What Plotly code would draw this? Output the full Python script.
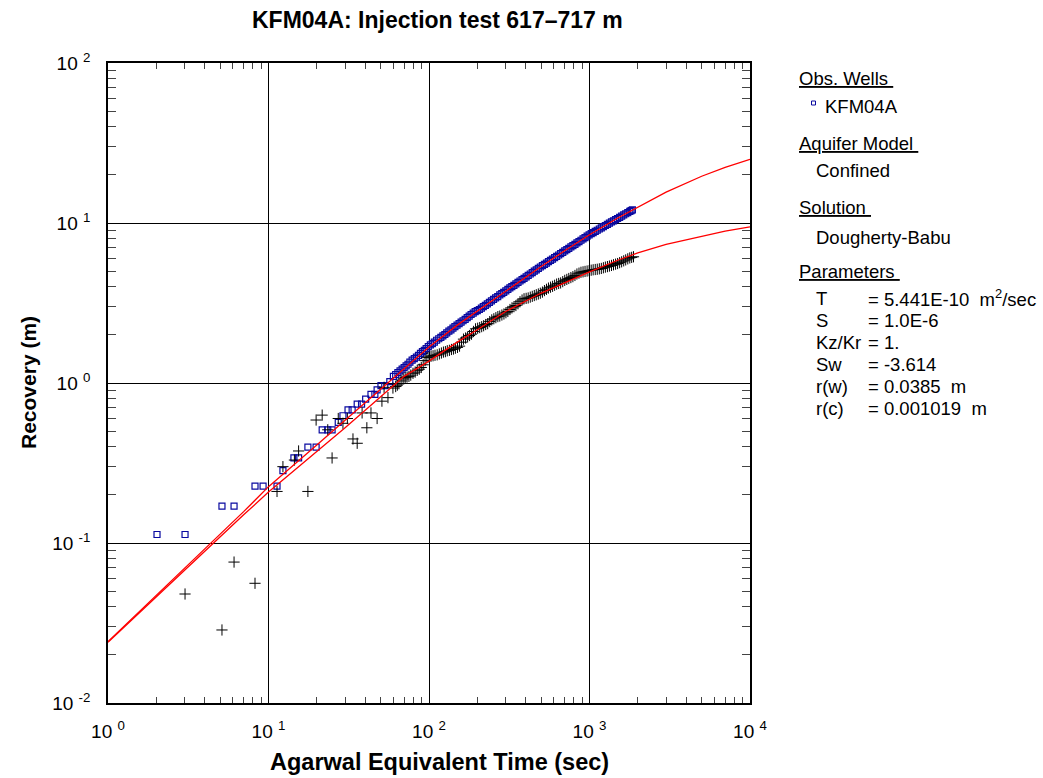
import plotly.graph_objects as go

# ---------------- data ----------------
# observed recovery at KFM04A (early, quantised readings)
obs_time_early = [2.02, 3.02, 5.13, 6.1, 8.24, 9.25, 11.3, 12.3, 14.4, 15.4, 17.6, 19.8,
                  21.6, 23.4, 24.9, 27.2, 29.1, 31.3, 33.2, 35.7, 38.0, 40.3, 43.5, 46.0,
                  47.5, 50.2, 53.0, 57.0]
obs_rec_early = [0.113, 0.113, 0.170, 0.170, 0.227, 0.227, 0.227, 0.283, 0.340, 0.340, 0.397, 0.397,
                 0.510, 0.510, 0.510, 0.567, 0.624, 0.680, 0.680, 0.737, 0.737, 0.794, 0.850, 0.850,
                 0.907, 0.964, 0.964, 1.020]
# observed recovery (dense part of the record)
obs_time = [60, 62, 64, 66, 68, 70, 72, 74, 76, 78.5, 81, 83.5, 86, 88.5, 91, 93.5, 96, 99,
            102, 105, 108, 111.5, 115, 118.5, 122, 125.5, 129, 133, 137, 141, 145, 149.5, 154,
            158.5, 163, 168, 173, 178, 183, 188.5, 194, 200, 206, 212, 218, 224.5, 231, 238,
            245, 252.5, 260, 268, 276, 284, 292, 301, 310, 319, 328, 338, 348, 358.5, 369, 380,
            391, 403, 415, 427.5, 440, 453, 466, 480, 494, 509, 524, 539.5, 555, 571.5, 588,
            606, 624, 642.5, 661, 681, 701, 722, 743, 765.5, 788, 811.5, 835, 860, 885, 911.5,
            938, 966.5, 995, 1024.5, 1054, 1086, 1118, 1151.5, 1185, 1220.5, 1256, 1293.5,
            1331, 1371, 1411, 1453.5, 1496, 1541, 1586, 1633.5, 1681, 1731.5, 1782, 1816, 1850]
obs_rec = [1.10, 1.13, 1.16, 1.19, 1.22, 1.25, 1.28, 1.31, 1.35, 1.39, 1.42, 1.45, 1.49, 1.53,
           1.57, 1.60, 1.64, 1.69, 1.73, 1.76, 1.80, 1.85, 1.89, 1.93, 1.97, 2.01, 2.06, 2.11,
           2.15, 2.20, 2.25, 2.30, 2.35, 2.40, 2.45, 2.50, 2.56, 2.62, 2.68, 2.73, 2.79, 2.83,
           2.88, 2.94, 3.00, 3.06, 3.12, 3.19, 3.26, 3.33, 3.40, 3.47, 3.55, 3.62, 3.69, 3.77,
           3.85, 3.93, 4.00, 4.08, 4.17, 4.25, 4.34, 4.43, 4.51, 4.60, 4.70, 4.80, 4.90, 5.00,
           5.10, 5.20, 5.31, 5.42, 5.52, 5.62, 5.73, 5.84, 5.95, 6.07, 6.19, 6.31, 6.43, 6.56,
           6.69, 6.82, 6.95, 7.09, 7.22, 7.36, 7.51, 7.65, 7.80, 7.95, 8.10, 8.27, 8.43, 8.57,
           8.71, 8.86, 9.01, 9.17, 9.32, 9.49, 9.65, 9.81, 9.98, 10.15, 10.32, 10.50, 10.67,
           10.85, 11.04, 11.23, 11.42, 11.62, 11.81, 11.94, 12.07]

# derivative points (crosses)
der_time = [3.02, 5.13, 6.1, 8.24, 11.3, 12.3, 14.5, 15.4, 17.6, 19.8, 21.6, 23.4, 24.9, 27.2,
            29.1, 31.0, 33.6, 35.7, 38.3, 41.0, 43.5, 47.5, 50.9, 52.5, 55.5, 59.6,
            62, 63.5, 65, 67, 69, 71, 73, 75, 77, 79.5, 82, 84.5, 87, 89.5, 92, 94.5, 97, 100,
            103, 106, 109, 112.5, 116, 119.5, 123, 126.5, 130, 134, 138, 142, 146, 150.5, 155,
            159.5, 164, 169, 174, 179, 184, 189.5, 195, 201, 207, 213, 219, 225.5, 232, 239,
            246, 253.5, 261, 268.5, 276, 284.5, 293, 301.5, 310, 319.5, 329, 338.5, 348, 358.5,
            369, 380, 391, 403, 415, 427.5, 440, 453, 466, 480, 494, 509, 524, 539.5, 555, 572,
            589, 606.5, 624, 642.5, 661, 681, 701, 722, 743, 765.5, 788, 811.5, 835, 860, 885,
            911.5, 938, 966.5, 995, 1024.5, 1054, 1086, 1118, 1151.5, 1185, 1220.5, 1256,
            1293.5, 1331, 1371, 1411, 1453.5, 1496, 1541, 1586, 1633.5, 1681, 1731.5, 1782,
            1831, 1880]
der_val = [0.048, 0.0286, 0.076, 0.056, 0.21, 0.30, 0.33, 0.376, 0.21, 0.587, 0.63, 0.51, 0.34,
           0.60, 0.56, 0.60, 0.447, 0.42, 0.65, 0.525, 0.65, 0.60, 0.77, 0.94, 0.81, 0.93,
           0.95, 0.97, 0.99, 1.03, 1.06, 1.08, 1.09, 1.10, 1.12, 1.15, 1.17, 1.20, 1.22, 1.25,
           1.30, 1.38, 1.44, 1.45, 1.47, 1.48, 1.49, 1.50, 1.52, 1.54, 1.56, 1.57, 1.59, 1.60,
           1.62, 1.63, 1.65, 1.67, 1.70, 1.80, 1.88, 1.91, 1.94, 1.98, 2.02, 2.10, 2.18, 2.20,
           2.22, 2.25, 2.28, 2.32, 2.35, 2.42, 2.48, 2.52, 2.56, 2.60, 2.62, 2.66, 2.70, 2.75,
           2.80, 2.88, 2.95, 3.00, 3.05, 3.13, 3.22, 3.30, 3.36, 3.38, 3.40, 3.44, 3.48, 3.52,
           3.56, 3.60, 3.64, 3.70, 3.78, 3.85, 3.92, 3.97, 4.02, 4.08, 4.15, 4.19, 4.22, 4.30,
           4.38, 4.44, 4.50, 4.56, 4.62, 4.70, 4.80, 4.86, 4.92, 4.95, 4.98, 5.01, 5.04, 5.07,
           5.10, 5.12, 5.14, 5.17, 5.20, 5.25, 5.30, 5.34, 5.38, 5.43, 5.48, 5.53, 5.58, 5.65,
           5.72, 5.80, 5.88, 5.97, 6.05, 6.10, 6.15]

# Dougherty-Babu type curves
fit_time = [1, 2, 3, 5, 7, 10, 15, 20, 30, 50, 70, 100, 150, 200, 300, 500, 700, 1000,
            1500, 2000, 3000, 5000, 7000, 10000]
fit_rec = [0.0242, 0.0470, 0.0695, 0.114, 0.157, 0.225, 0.318, 0.41, 0.585, 0.915, 1.24, 1.68,
           2.30, 2.82, 3.76, 5.35, 6.70, 8.45, 10.75, 12.6, 15.6, 19.6, 22.3, 25.0]
fit_der = [0.0240, 0.0462, 0.068, 0.110, 0.150, 0.208, 0.293, 0.375, 0.525, 0.82, 1.10, 1.37,
           1.80, 2.15, 2.80, 3.65, 4.25, 4.95, 5.85, 6.50, 7.35, 8.30, 8.90, 9.45]

decades = [1, 10, 100, 1000, 10000]
x_tick_text = ["10 <sup>0</sup>", "10 <sup>1</sup>", "10 <sup>2</sup>", "10 <sup>3</sup>", "10 <sup>4</sup>"]
y_decades = [0.01, 0.1, 1, 10, 100]
y_tick_text = ["10 <sup>-2</sup>", "10 <sup>-1</sup>", "10 <sup>0</sup>", "10 <sup>1</sup>", "10 <sup>2</sup>"]

param_names = ["T", "S", "Kz/Kr", "Sw", "r(w)", "r(c)"]
param_values = ["= 5.441E-10  m<sup>2</sup>/sec", "= 1.0E-6", "= 1.", "= -3.614",
                "= 0.0385  m", "= 0.001019  m"]

# ---------------- figure ----------------
FONT = "Liberation Sans, Arial, sans-serif"
L, R, T, B = 108, 750, 63, 703
W, H = 1043, 778
PW, PH = R - L, B - T


def px(x):
    return (x - L) / PW


def py(y):
    return (B - y) / PH


minor_x = [m * 10 ** k for k in range(0, 4) for m in range(2, 10)]
minor_y = [m * 10 ** k for k in range(-2, 2) for m in range(2, 10)]

fig = go.Figure()
blue = "#0a0aa0"
fig.add_trace(go.Scatter(x=obs_time_early + obs_time, y=obs_rec_early + obs_rec, mode="markers",
                         marker=dict(symbol="square-open", size=6, color=blue,
                                     line=dict(width=1.2, color=blue)),
                         showlegend=False))
fig.add_trace(go.Scatter(x=der_time, y=der_val, mode="markers",
                         marker=dict(symbol="cross-thin", size=8, color="black",
                                     line=dict(width=1.0, color="black")),
                         showlegend=False))
fig.add_trace(go.Scatter(x=fit_time, y=fit_rec, mode="lines",
                         line=dict(color="#ff0000", width=1.3), showlegend=False))
fig.add_trace(go.Scatter(x=fit_time, y=fit_der, mode="lines",
                         line=dict(color="#ff0000", width=1.3), showlegend=False))

axis_common = dict(type="log", showgrid=True, gridcolor="black", gridwidth=1,
                   showline=True, linecolor="black", linewidth=1.5, mirror="allticks",
                   ticks="", zeroline=False,
                   tickfont=dict(family=FONT, size=19, color="black"))
fig.update_xaxes(range=[0, 4], tickvals=decades, ticktext=x_tick_text, ticklabelstandoff=10,
                 minor=dict(tickvals=minor_x, ticks="inside", ticklen=6, tickcolor="#444",
                            showgrid=False),
                 **axis_common)
fig.update_yaxes(range=[-2, 2], tickvals=y_decades, ticktext=y_tick_text, ticklabelstandoff=12,
                 minor=dict(tickvals=minor_y, ticks="inside", ticklen=8, tickcolor="#444",
                            showgrid=False),
                 **axis_common)

ann = []
ann.append(dict(text="<b>KFM04A: Injection test 617\u2013717 m</b>", x=px(437), y=py(20),
                font=dict(size=23)))
ann.append(dict(text="<b>Agarwal Equivalent Time (sec)</b>", x=px(439), y=py(762),
                font=dict(size=23.5)))
ann.append(dict(text="<b>Recovery (m)</b>", x=px(28), y=py(383), textangle=-90,
                font=dict(size=21)))

left_items = [
    ("<u>Obs. Wells\u00a0</u>", 797, 78),
    ("KFM04A", 823, 107),
    ("<u>Aquifer Model\u00a0</u>", 797, 143),
    ("Confined", 814, 171),
    ("<u>Solution\u00a0</u>", 797, 207),
    ("Dougherty-Babu", 814, 237),
    ("<u>Parameters\u00a0</u>", 797, 271),
]
for txt, x, y in left_items:
    ann.append(dict(text=txt, x=px(x), y=py(y), xanchor="left", font=dict(size=18.5)))

row_y = [298, 320, 342, 364, 386, 408]
for name, val, y in zip(param_names, param_values, row_y):
    ann.append(dict(text=name, x=px(814), y=py(y), xanchor="left", font=dict(size=18.5)))
    ann.append(dict(text=val, x=px(866), y=py(y), xanchor="left", font=dict(size=18.5)))

for a in ann:
    a.setdefault("xanchor", "center")
    a.update(xref="paper", yref="paper", showarrow=False, yanchor="middle")
    a["font"] = dict(family=FONT, color="black", **a["font"])
fig.update_layout(annotations=ann)

# small symbol in front of the well name
fig.add_shape(type="rect", xref="paper", yref="paper",
              x0=px(811.5), x1=px(815.5), y0=py(105), y1=py(101),
              line=dict(color=blue, width=1))

fig.update_layout(width=W, height=H, margin=dict(l=L, r=W - R, t=T, b=H - B, pad=0),
                  paper_bgcolor="white", plot_bgcolor="white",
                  font=dict(family=FONT, color="black"))

fig.write_html("out.html")
